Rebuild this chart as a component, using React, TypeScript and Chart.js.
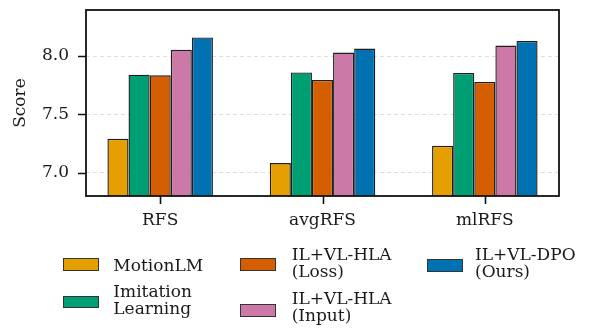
import React, { useEffect, useRef } from "react";
import { Chart, registerables } from "chart.js";

Chart.register(...registerables);

const categories = ["RFS", "avgRFS", "mlRFS"];
const seriesNames = ["MotionLM", "Imitation Learning", "IL+VL-HLA (Loss)", "IL+VL-HLA (Input)", "IL+VL-DPO (Ours)"];
const motionLM = [7.29, 7.083, 7.23];
const imitation = [7.84, 7.86, 7.855];
const hlaLoss = [7.835, 7.795, 7.778];
const hlaInput = [8.055, 8.03, 8.09];
const dpo = [8.16, 8.065, 8.13];
const yTicks = [7.0, 7.5, 8.0];
const colors = ["#E69F00", "#009E73", "#D55E00", "#CC79A7", "#0072B2"];

const legendLines = [
  ["MotionLM"],
  ["Imitation", "Learning"],
  ["IL+VL-HLA", "(Loss)"],
  ["IL+VL-HLA", "(Input)"],
  ["IL+VL-DPO", "(Ours)"],
];

const FONT = "'DejaVu Serif', serif";

const framePlugin = {
  id: "frame",
  afterDraw(chart: any) {
    const { ctx, chartArea } = chart;
    const xs = chart.scales.x;
    const ys = chart.scales.y;
    ctx.save();
    ctx.setLineDash([]);
    ctx.strokeStyle = "#111";
    ctx.lineWidth = 1.8;
    ctx.strokeRect(chartArea.left, chartArea.top, chartArea.right - chartArea.left, chartArea.bottom - chartArea.top);
    ctx.lineWidth = 1.6;
    ctx.beginPath();
    xs.ticks.forEach((t: any) => {
      const px = Math.round(xs.getPixelForValue(t.value)) + 0.5;
      ctx.moveTo(px, chartArea.bottom);
      ctx.lineTo(px, chartArea.bottom + 8);
    });
    ys.ticks.forEach((t: any) => {
      const py = Math.round(ys.getPixelForValue(t.value)) + 0.5;
      ctx.moveTo(chartArea.left, py);
      ctx.lineTo(chartArea.left - 8, py);
    });
    ctx.stroke();
    ctx.restore();
  },
};

export default function App() {
  const ref = useRef<HTMLCanvasElement>(null);
  useEffect(() => {
    const all = [motionLM, imitation, hlaLoss, hlaInput, dpo];
    const chart = new Chart(ref.current!, {
      type: "bar",
      data: {
        datasets: all.map((vals, i) => ({
          label: seriesNames[i],
          data: vals.map((v, j) => ({ x: j, y: v })),
          backgroundColor: colors[i],
          borderColor: "#1e1e1e",
          borderWidth: 1.4,
          borderSkipped: false,
          categoryPercentage: 0.65,
          barPercentage: 1.0,
        })),
      },
      options: {
        animation: false,
        responsive: false,
        devicePixelRatio: 1,
        layout: { padding: { left: 0, top: 10, right: 30, bottom: 92 } },
        plugins: { legend: { display: false }, tooltip: { enabled: false } },
        scales: {
          x: {
            type: "linear",
            offset: false,
            min: -0.457,
            max: 2.457,
            afterBuildTicks: (s: any) => {
              s.ticks = categories.map((_, i) => ({ value: i }));
            },
            afterFit: (s: any) => {
              s.height = 40;
              s.paddingLeft = 0;
              s.paddingRight = 0;
            },
            ticks: {
              callback: (v: any) => categories[Math.round(Number(v))] ?? "",
              font: { family: FONT, size: 17 },
              color: "#1a1a1a",
              padding: 6,
              maxRotation: 0,
              autoSkip: false,
            },
            grid: {
              offset: false,
              drawOnChartArea: false,
              drawTicks: true,
              tickLength: 8,
              tickColor: "rgba(0,0,0,0)",
              tickWidth: 1.6,
              tickBorderDash: [],
            },
            border: { display: false },
          },
          y: {
            min: 6.8,
            max: 8.395,
            afterBuildTicks: (s: any) => {
              s.ticks = yTicks.map((v) => ({ value: v }));
            },
            afterFit: (s: any) => {
              s.width = 86;
              s.paddingTop = 0;
              s.paddingBottom = 0;
            },
            ticks: {
              callback: (v: any) => Number(v).toFixed(1),
              font: { family: FONT, size: 17 },
              color: "#1a1a1a",
              padding: 9,
            },
            title: {
              display: true,
              text: "Score",
              font: { family: FONT, size: 17 },
              color: "#1a1a1a",
              padding: { top: 10, bottom: 0 },
            },
            grid: {
              color: "#dedede",
              lineWidth: 1,
              drawTicks: true,
              tickLength: 8,
              tickColor: "rgba(0,0,0,0)",
              tickWidth: 1.6,
              tickBorderDash: [],
            },
            border: { display: false, dash: [4, 3] },
          },
        },
      },
      plugins: [framePlugin],
    } as any);
    return () => chart.destroy();
  }, []);

  const swatches = [
    { x: 62.7, y: 258.3 },
    { x: 62.7, y: 295.7 },
    { x: 240, y: 258.3 },
    { x: 240, y: 304 },
    { x: 427.3, y: 259 },
  ];
  const texts = [
    { x: 113.3, y: 256.6 },
    { x: 113.3, y: 283 },
    { x: 291.7, y: 245.6 },
    { x: 291.7, y: 290 },
    { x: 475, y: 245.6 },
  ];

  return (
    <div style={{ position: "fixed", left: 0, top: 0, width: 589, height: 328, background: "#fff", overflow: "hidden" }}>
      <canvas ref={ref} width={589} height={328} style={{ position: "absolute", left: 0, top: 0, width: 589, height: 328 }} />
      {swatches.map((s, i) => (
        <div
          key={"s" + i}
          style={{
            position: "absolute",
            left: s.x,
            top: s.y,
            width: 36,
            height: 12.7,
            boxSizing: "border-box",
            background: colors[i],
            border: "1.3px solid #333",
          }}
        />
      ))}
      {texts.map((t, i) => (
        <div
          key={"t" + i}
          style={{
            position: "absolute",
            left: t.x,
            top: t.y,
            fontFamily: FONT,
            fontSize: 17,
            lineHeight: "17px",
            color: "#1a1a1a",
            whiteSpace: "nowrap",
          }}
        >
          {legendLines[i].map((l, k) => (
            <div key={k}>{l}</div>
          ))}
        </div>
      ))}
    </div>
  );
}
